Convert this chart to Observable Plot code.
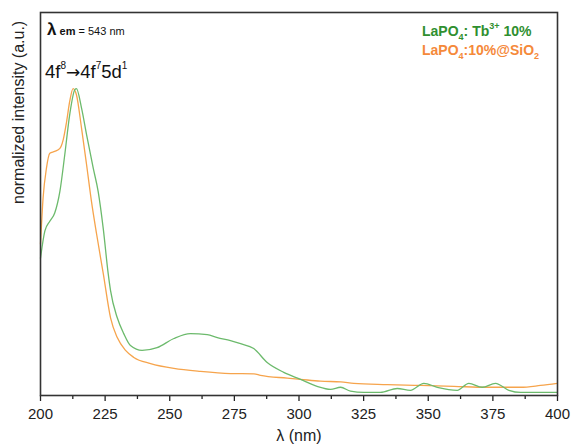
<!DOCTYPE html>
<html><head><meta charset="utf-8">
<script src="https://cdn.jsdelivr.net/npm/d3@7"></script>
<script src="https://cdn.jsdelivr.net/npm/@observablehq/plot@0.6"></script>
<style>body{margin:0;background:#fff}</style>
</head><body><div id="chart"></div>
<script>
// LaPO4: Tb3+ 10% (green)
const greenLambda = [200.0,201.7,203.6,205.5,207.5,209.4,211.3,213.3,213.9,215.9,217.8,220.4,222.3,224.3,226.2,227.1,229.7,232.2,234.8,239.3,245.1,251.6,258.0,264.5,268.4,273.5,277.4,282.5,287.7,294.1,300.6,307.0,312.2,316.1,319.9,325.1,331.5,338.0,343.1,348.3,353.5,361.2,365.7,370.9,376.0,381.2,385.7,399.9];
const greenValue  = [0.444,0.533,0.565,0.592,0.663,0.784,0.915,0.997,1.000,0.935,0.850,0.739,0.663,0.539,0.392,0.337,0.248,0.196,0.157,0.141,0.150,0.180,0.196,0.193,0.183,0.173,0.163,0.147,0.101,0.069,0.046,0.023,0.013,0.020,0.007,0.003,0.003,0.016,0.010,0.033,0.020,0.010,0.033,0.020,0.033,0.010,0.003,0.003];
// LaPO4:10%@SiO2 (orange)
const orangeLambda = [200.0,201.0,202.3,203.6,205.5,207.5,208.8,210.1,211.3,212.6,213.9,215.9,217.8,219.7,221.7,224.3,227.1,229.7,232.9,236.1,242.6,251.6,261.9,273.5,282.5,285.1,295.4,300.6,308.3,316.1,321.2,334.1,347.0,359.9,372.8,385.7,393.4,399.9];
const orangeValue  = [0.490,0.641,0.739,0.788,0.794,0.804,0.833,0.892,0.958,1.000,0.980,0.869,0.752,0.631,0.523,0.392,0.248,0.183,0.141,0.118,0.098,0.082,0.072,0.065,0.064,0.059,0.050,0.046,0.040,0.038,0.033,0.029,0.026,0.023,0.020,0.020,0.026,0.033];

const xTicks = [200,225,250,275,300,325,350,375,400];
const xMinorTicks = [212.5,237.5,262.5,287.5,312.5,337.5,362.5,387.5];

const green = greenLambda.map((l,i)=>({lambda:l, value:greenValue[i]}));
const orange = orangeLambda.map((l,i)=>({lambda:l, value:orangeValue[i]}));

const font = "Liberation Sans, Arial, Helvetica, sans-serif";

const chart = Plot.plot({
  width:572, height:447,
  marginLeft:40, marginRight:15, marginTop:12, marginBottom:52,
  style:{fontFamily:font, background:"#fff", color:"#222"},
  x:{domain:[200,400]},
  y:{domain:[-0.007,1.25], axis:null},
  marks:[
    Plot.axisX(xTicks, {tickSize:6, tickPadding:7, fontSize:15, stroke:"#222", strokeWidth:1.3, label:null}),
    Plot.axisX(xMinorTicks, {tickSize:4, tickFormat:()=>"", stroke:"#222", strokeWidth:1.3, label:null}),
    Plot.line(orange, {x:"lambda", y:"value", stroke:"#f6a44c", strokeWidth:1.3, curve:"monotone-x"}),
    Plot.line(green, {x:"lambda", y:"value", stroke:"#6cba6c", strokeWidth:1.3, curve:"monotone-x"}),
    Plot.frame({stroke:"#333", strokeWidth:1.6}),
    Plot.text(["λ (nm)"], {frameAnchor:"bottom", dy:45, fontSize:16, fill:"#222"}),
    Plot.text(["normalized intensity (a.u.)"], {frameAnchor:"left", dx:-22, rotate:-90, fontSize:16, fill:"#222"})
  ]
});
document.getElementById("chart").appendChild(chart);

const svg = d3.select(chart);
function rich(x, y, segs, fill){
  const t = svg.append("text").attr("x", x).attr("y", y).attr("fill", fill)
    .attr("text-anchor", "start")
    .style("font-family", font);
  let cur = 0;
  segs.forEach(s=>{
    const off = s.off || 0;
    t.append("tspan").text(s.t)
      .attr("dy", off - cur)
      .attr("font-size", s.size)
      .attr("font-weight", s.bold ? "bold" : "normal")
      .style("font-family", s.family || null);
    cur = off;
  });
}
// lambda em
rich(47, 35, [
  {t:"λ", size:17, bold:true},
  {t:" em", size:11, bold:true},
  {t:" = 543 nm", size:11}
], "#111");
// transition annotation
rich(45, 78, [
  {t:"4f", size:18.5},
  {t:"8", size:10, off:-9},
  {t:"→", size:17, off:0, family:"DejaVu Sans"},
  {t:"4f", size:18.5},
  {t:"7", size:10, off:-9},
  {t:"5d", size:18.5, off:0},
  {t:"1", size:10, off:-9}
], "#111");
// legend
rich(422, 36, [
  {t:"LaPO", size:14, bold:true},
  {t:"4", size:9, bold:true, off:4},
  {t:": Tb", size:14, bold:true, off:0},
  {t:"3+", size:9, bold:true, off:-7},
  {t:" 10%", size:14, bold:true, off:0}
], "#2f8f2f");
rich(422, 55, [
  {t:"LaPO", size:14, bold:true},
  {t:"4", size:9, bold:true, off:4},
  {t:":10%@SiO", size:14, bold:true, off:0},
  {t:"2", size:9, bold:true, off:4}
], "#f5893a");
</script>
</body></html>
